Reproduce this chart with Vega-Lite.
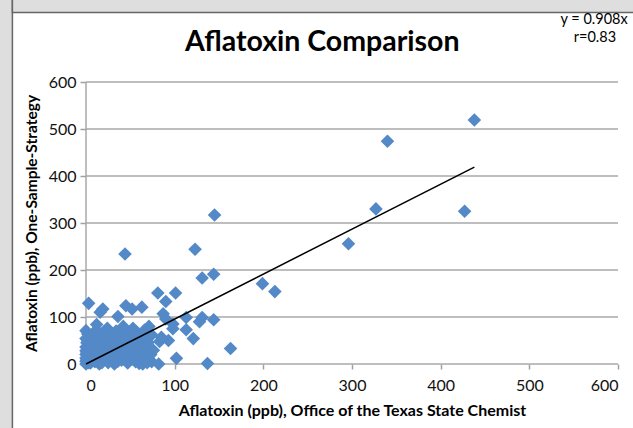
{
  "$schema": "https://vega.github.io/schema/vega-lite/v6.json",
  "width": 532,
  "height": 282,
  "autosize": {"type": "none"},
  "padding": {"left": 86, "top": 82, "right": 15, "bottom": 64},
  "background": "white",
  "data": {"values": [{}]},
  "config": {
    "view": {"stroke": null},
    "font": "Lato",
    "axis": {"labelFont": "Lato", "titleFont": "Lato", "labelColor": "#111", "titleColor": "#000", "labelFontSize": 16, "titleFontSize": 16, "titleFontWeight": "bold", "domain": false, "grid": false, "tickColor": "#a0a0a0", "tickWidth": 1.5}
  },
  "datasets": {
    "grid": [{"g": 0}, {"g": 100}, {"g": 200}, {"g": 300}, {"g": 400}, {"g": 500}, {"g": 600}],
    "pts": [
      {"otsc": 438, "oss": 519}, {"otsc": 340, "oss": 474}, {"otsc": 327, "oss": 330}, {"otsc": 427, "oss": 325},
      {"otsc": 296, "oss": 256}, {"otsc": 199, "oss": 171}, {"otsc": 213, "oss": 154},
      {"otsc": 145, "oss": 317}, {"otsc": 123, "oss": 244}, {"otsc": 44, "oss": 234}, {"otsc": 131, "oss": 183},
      {"otsc": 144, "oss": 191}, {"otsc": 81, "oss": 151}, {"otsc": 101, "oss": 151}, {"otsc": 90, "oss": 133},
      {"otsc": 3, "oss": 129}, {"otsc": 45, "oss": 124}, {"otsc": 63, "oss": 121}, {"otsc": 52, "oss": 117},
      {"otsc": 19, "oss": 117}, {"otsc": 16, "oss": 110}, {"otsc": 36, "oss": 101}, {"otsc": 87, "oss": 107},
      {"otsc": 90, "oss": 96}, {"otsc": 113, "oss": 99}, {"otsc": 131, "oss": 99}, {"otsc": 128, "oss": 90},
      {"otsc": 144, "oss": 94}, {"otsc": 98, "oss": 85}, {"otsc": 98, "oss": 75}, {"otsc": 113, "oss": 73},
      {"otsc": 121, "oss": 54}, {"otsc": 12, "oss": 84}, {"otsc": 163, "oss": 33}, {"otsc": 102, "oss": 12},
      {"otsc": 137, "oss": 1}, {"otsc": 93, "oss": 50}, {"otsc": 85, "oss": 57}, {"otsc": 83, "oss": 48},
      {"otsc": 76, "oss": 29}, {"otsc": 82, "oss": 0}, {"otsc": 74, "oss": 5}, {"otsc": 60, "oss": 1},
      {"otsc": 0, "oss": 0}, {"otsc": 0, "oss": 6}, {"otsc": 0, "oss": 13}, {"otsc": 0, "oss": 20},
      {"otsc": 0, "oss": 28}, {"otsc": 0, "oss": 36}, {"otsc": 1, "oss": 45}, {"otsc": 0, "oss": 54},
      {"otsc": 2, "oss": 64}, {"otsc": 1, "oss": 9}, {"otsc": 2, "oss": 16}, {"otsc": 3, "oss": 3},
      {"otsc": 1, "oss": 25}, {"otsc": 3, "oss": 40}, {"otsc": 2, "oss": 50}, {"otsc": 0, "oss": 71},
      {"otsc": 5, "oss": 2}, {"otsc": 6, "oss": 10}, {"otsc": 8, "oss": 22}, {"otsc": 7, "oss": 35},
      {"otsc": 5, "oss": 48}, {"otsc": 9, "oss": 58}, {"otsc": 10, "oss": 5}, {"otsc": 12, "oss": 15},
      {"otsc": 11, "oss": 30}, {"otsc": 14, "oss": 42}, {"otsc": 13, "oss": 60}, {"otsc": 15, "oss": 0},
      {"otsc": 10, "oss": 69}, {"otsc": 16, "oss": 8}, {"otsc": 18, "oss": 20}, {"otsc": 20, "oss": 33},
      {"otsc": 17, "oss": 48}, {"otsc": 22, "oss": 55}, {"otsc": 25, "oss": 3}, {"otsc": 24, "oss": 15},
      {"otsc": 27, "oss": 28}, {"otsc": 28, "oss": 42}, {"otsc": 26, "oss": 60}, {"otsc": 20, "oss": 68},
      {"otsc": 30, "oss": 10}, {"otsc": 30, "oss": 50}, {"otsc": 22, "oss": 40}, {"otsc": 32, "oss": 0},
      {"otsc": 33, "oss": 18}, {"otsc": 35, "oss": 30}, {"otsc": 36, "oss": 45}, {"otsc": 38, "oss": 58},
      {"otsc": 40, "oss": 8}, {"otsc": 42, "oss": 22}, {"otsc": 41, "oss": 38}, {"otsc": 44, "oss": 52},
      {"otsc": 46, "oss": 66}, {"otsc": 34, "oss": 70}, {"otsc": 47, "oss": 2}, {"otsc": 48, "oss": 15},
      {"otsc": 50, "oss": 28}, {"otsc": 52, "oss": 42}, {"otsc": 55, "oss": 58}, {"otsc": 56, "oss": 5},
      {"otsc": 58, "oss": 20}, {"otsc": 60, "oss": 35}, {"otsc": 57, "oss": 68}, {"otsc": 53, "oss": 76},
      {"otsc": 62, "oss": 10}, {"otsc": 63, "oss": 24}, {"otsc": 65, "oss": 45}, {"otsc": 68, "oss": 56},
      {"otsc": 70, "oss": 12}, {"otsc": 72, "oss": 32}, {"otsc": 66, "oss": 72}, {"otsc": 71, "oss": 80},
      {"otsc": 74, "oss": 62}, {"otsc": 42, "oss": 80}, {"otsc": 24, "oss": 76}, {"otsc": 64, "oss": 0},
      {"otsc": 68, "oss": 38}, {"otsc": 8, "oss": 40}, {"otsc": 6, "oss": 28}, {"otsc": 45, "oss": 36},
      {"otsc": 38, "oss": 24}, {"otsc": 52, "oss": 10}, {"otsc": 18, "oss": 3}, {"otsc": 29, "oss": 64},
      {"otsc": 4, "oss": 58}, {"otsc": 15, "oss": 52}, {"otsc": 19, "oss": 26}, {"otsc": 24, "oss": 47},
      {"otsc": 32, "oss": 36}, {"otsc": 33, "oss": 56}, {"otsc": 39, "oss": 14}, {"otsc": 44, "oss": 29},
      {"otsc": 49, "oss": 48}, {"otsc": 50, "oss": 62}, {"otsc": 54, "oss": 33}, {"otsc": 59, "oss": 50},
      {"otsc": 61, "oss": 60}, {"otsc": 64, "oss": 17}, {"otsc": 66, "oss": 30}, {"otsc": 70, "oss": 46},
      {"otsc": 73, "oss": 20}, {"otsc": 36, "oss": 6}, {"otsc": 27, "oss": 8}, {"otsc": 11, "oss": 50},
      {"otsc": 28, "oss": 20}, {"otsc": 53, "oss": 22}, {"otsc": 40, "oss": 64}, {"otsc": 16, "oss": 64},
      {"otsc": 5, "oss": 18}, {"otsc": 21, "oss": 12}, {"otsc": 58, "oss": 42}, {"otsc": 47, "oss": 55},
      {"otsc": 9, "oss": 45}, {"otsc": 13, "oss": 36}, {"otsc": 19, "oss": 40}, {"otsc": 25, "oss": 35},
      {"otsc": 31, "oss": 27}, {"otsc": 37, "oss": 38}, {"otsc": 43, "oss": 45}, {"otsc": 49, "oss": 38},
      {"otsc": 55, "oss": 45}, {"otsc": 61, "oss": 28}, {"otsc": 67, "oss": 22}, {"otsc": 63, "oss": 52},
      {"otsc": 56, "oss": 13}, {"otsc": 43, "oss": 10}, {"otsc": 29, "oss": 16}, {"otsc": 14, "oss": 22},
      {"otsc": 20, "oss": 58}, {"otsc": 31, "oss": 44}, {"otsc": 39, "oss": 50}, {"otsc": 51, "oss": 54},
      {"otsc": 45, "oss": 60}, {"otsc": 35, "oss": 62}, {"otsc": 69, "oss": 3}, {"otsc": 57, "oss": 30},
      {"otsc": 23, "oss": 26}, {"otsc": 8, "oss": 64}, {"otsc": 62, "oss": 40}, {"otsc": 48, "oss": 22}
    ],
    "trend": [{"otsc": 0, "oss": 0}, {"otsc": 438, "oss": 419}]
  },
  "layer": [
    {
      "mark": {"type": "rect", "fill": "#dedede", "stroke": "#666", "strokeWidth": 1.5},
      "encoding": {
        "x": {"datum": -250, "type": "quantitative", "scale": {"domain": [0, 600], "nice": false}},
        "x2": {"datum": -83},
        "y": {"datum": 900, "type": "quantitative", "scale": {"domain": [0, 600], "nice": false}},
        "y2": {"datum": -250}
      }
    },
    {
      "mark": {"type": "rect", "fill": "#dedede", "stroke": "#666", "strokeWidth": 1.5},
      "encoding": {
        "x": {"datum": -83, "type": "quantitative"},
        "x2": {"datum": 800},
        "y": {"datum": 1000, "type": "quantitative"},
        "y2": {"datum": 748}
      }
    },
    {
      "data": {"name": "grid"},
      "mark": {"type": "rule", "color": "#a8a8a8", "strokeWidth": 1.5},
      "encoding": {"y": {"field": "g", "type": "quantitative"}}
    },
    {
      "mark": {"type": "rule", "color": "#a8a8a8", "strokeWidth": 1.5},
      "encoding": {"x": {"datum": 0, "type": "quantitative"}, "y": {"datum": 0, "type": "quantitative"}, "y2": {"datum": 600}}
    },
    {
      "data": {"name": "pts"},
      "mark": {"type": "point", "shape": "diamond", "filled": true, "size": 185, "color": "#5489c8", "opacity": 1},
      "encoding": {
        "x": {"field": "otsc", "type": "quantitative", "scale": {"domain": [0, 600], "nice": false},
          "axis": {"title": "Aflatoxin (ppb), Office of the Texas State Chemist", "values": [0, 100, 200, 300, 400, 500, 600], "tickSize": 5, "labelPadding": 8, "titlePadding": 9}},
        "y": {"field": "oss", "type": "quantitative", "scale": {"domain": [0, 600], "nice": false},
          "axis": {"title": "Aflatoxin (ppb), One-Sample-Strategy", "titleFontSize": 15.5, "values": [0, 100, 200, 300, 400, 500, 600], "tickSize": 6, "labelPadding": 4, "titlePadding": 9}}
      }
    },
    {
      "data": {"name": "trend"},
      "mark": {"type": "line", "color": "#000", "strokeWidth": 1.5},
      "encoding": {
        "x": {"field": "otsc", "type": "quantitative"},
        "y": {"field": "oss", "type": "quantitative"}
      }
    },
    {
      "mark": {"type": "text", "text": "Aflatoxin Comparison", "font": "Lato", "fontSize": 28.5, "fontWeight": "bold", "color": "#000", "align": "center", "baseline": "alphabetic"},
      "encoding": {"x": {"datum": 266.5, "type": "quantitative"}, "y": {"datum": 667, "type": "quantitative"}}
    },
    {
      "mark": {"type": "text", "text": "y = 0.908x", "font": "Lato", "fontSize": 14.5, "color": "#000", "align": "center", "baseline": "middle"},
      "encoding": {"x": {"datum": 573, "type": "quantitative"}, "y": {"datum": 731, "type": "quantitative"}}
    },
    {
      "mark": {"type": "text", "text": "r=0.83", "font": "Lato", "fontSize": 14.5, "color": "#000", "align": "center", "baseline": "middle"},
      "encoding": {"x": {"datum": 574, "type": "quantitative"}, "y": {"datum": 694, "type": "quantitative"}}
    }
  ]
}
